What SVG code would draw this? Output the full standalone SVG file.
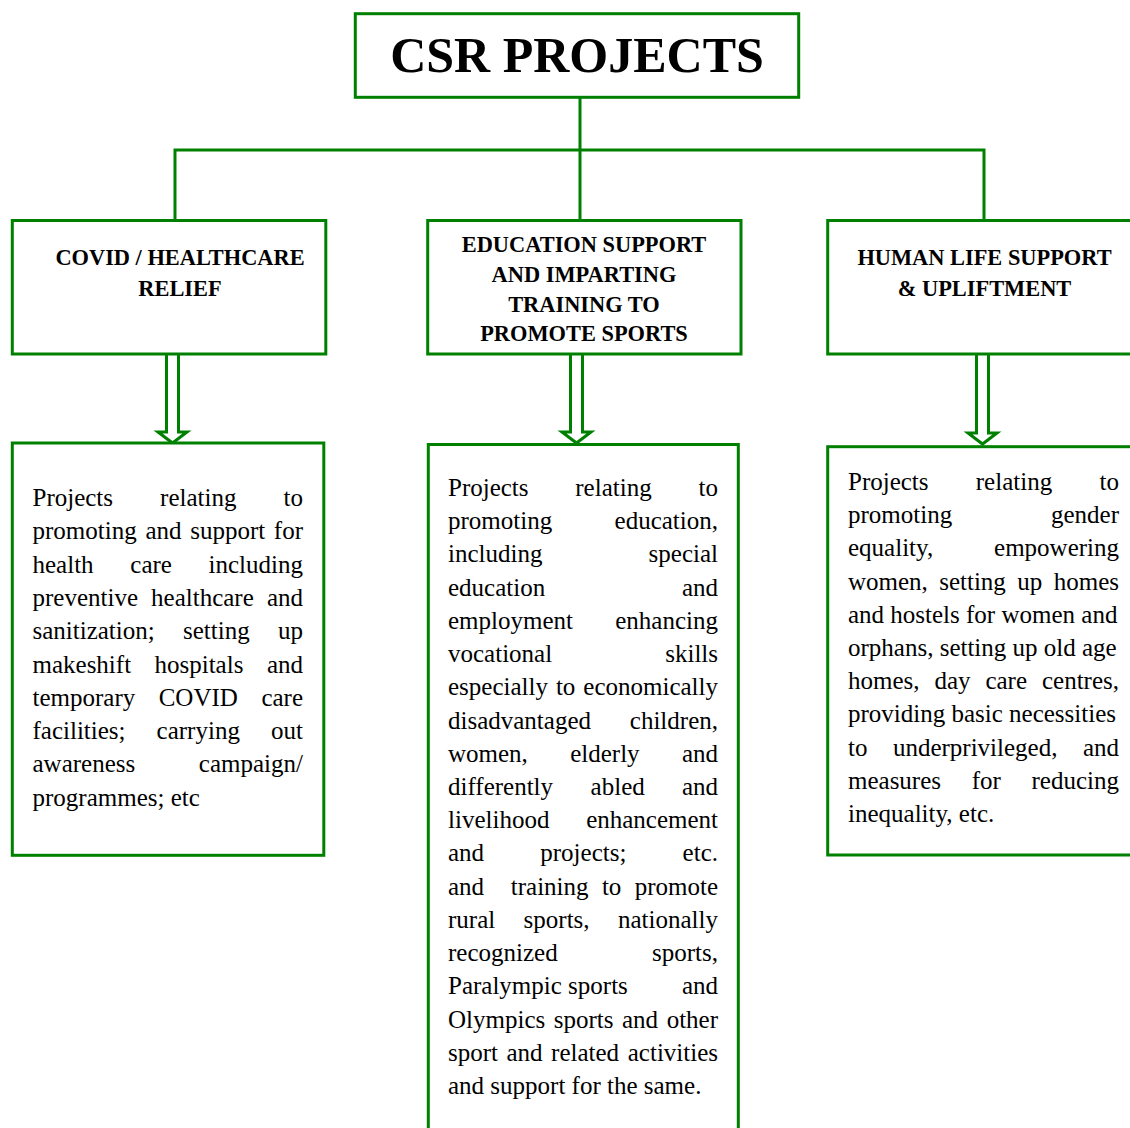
<svg xmlns="http://www.w3.org/2000/svg" width="1130" height="1128" viewBox="0 0 1130 1128">
<style>
.box{fill:#fff;stroke:#008000;stroke-width:3}
.ln{fill:none;stroke:#008000;stroke-width:3}
.arr{fill:#fff;stroke:#008000;stroke-width:3;stroke-linejoin:miter}
text{font-family:"Liberation Serif","Times New Roman",serif;fill:#000}
.t{font-size:50px;font-weight:bold;text-anchor:middle}
.h{font-size:22.4px;font-weight:bold;text-anchor:middle}
.b{font-size:25px}
.e{text-anchor:end}
</style>
<defs>
<path id="hollow" d="M-6,0 V78 H-14.5 L0,89 L14.5,78 H6 V0"/>
</defs>
<rect width="1130" height="1128" fill="#fff"/>
<g id="connectors">
<path class="ln" d="M580,97 V220.5 M175,220.5 V150 H984 V220.5"/>
<use href="#hollow" class="arr" transform="translate(172.5,354)"/>
<use href="#hollow" class="arr" transform="translate(576.5,354)"/>
<use href="#hollow" class="arr" transform="translate(982.5,355)"/>
</g>
<g id="csr-projects">
<rect class="box" x="355.3" y="13.7" width="443.4" height="83.6"/>
<text class="t" x="577" y="72">CSR PROJECTS</text>
</g>
<g id="covid-healthcare">
<rect class="box" x="12.3" y="220.5" width="313.5" height="133.5"/>
<text class="h" x="180" y="265">COVID / HEALTHCARE</text>
<text class="h" x="180" y="296">RELIEF</text>
</g>
<g id="education-sports">
<rect class="box" x="427.7" y="220.5" width="313.3" height="133.5"/>
<text class="h" x="584" y="252">EDUCATION SUPPORT</text>
<text class="h" x="584" y="282">AND IMPARTING</text>
<text class="h" x="584" y="312">TRAINING TO</text>
<text class="h" x="584" y="341">PROMOTE SPORTS</text>
</g>
<g id="human-life">
<rect class="box" x="827.7" y="220.5" width="320" height="133.5"/>
<text class="h" x="984.5" y="265">HUMAN LIFE SUPPORT</text>
<text class="h" x="984.5" y="296">&amp; UPLIFTMENT</text>
</g>
<g id="covid-details">
<rect class="box" x="12.3" y="443" width="311.5" height="412.3"/>
<g class="b">
<text x="32.5" y="506">Projects</text><text x="160.1" y="506">relating</text><text class="e" x="303" y="506">to</text>
<text x="32.5" y="539.3">promoting</text><text x="145.4" y="539.3">and</text><text x="190.2" y="539.3">support</text><text class="e" x="303" y="539.3">for</text>
<text x="32.5" y="572.6">health</text><text x="130.3" y="572.6">care</text><text class="e" x="303" y="572.6">including</text>
<text x="32.5" y="605.9">preventive</text><text x="151.1" y="605.9">healthcare</text><text class="e" x="303" y="605.9">and</text>
<text x="32.5" y="639.2">sanitization;</text><text x="183" y="639.2">setting</text><text class="e" x="303" y="639.2">up</text>
<text x="32.5" y="672.5">makeshift</text><text x="154.5" y="672.5">hospitals</text><text class="e" x="303" y="672.5">and</text>
<text x="32.5" y="705.8">temporary</text><text x="158.7" y="705.8">COVID</text><text class="e" x="303" y="705.8">care</text>
<text x="32.5" y="739.1">facilities;</text><text x="156.6" y="739.1">carrying</text><text class="e" x="303" y="739.1">out</text>
<text x="32.5" y="772.4">awareness</text><text class="e" x="303" y="772.4">campaign/</text>
<text x="32.5" y="805.7">programmes; etc</text>
</g>
</g>
<g id="education-details">
<rect class="box" x="428.3" y="444.5" width="310" height="700"/>
<g class="b">
<text x="448" y="496">Projects</text><text x="575.3" y="496">relating</text><text class="e" x="718" y="496">to</text>
<text x="448" y="529.2">promoting</text><text class="e" x="718" y="529.2">education,</text>
<text x="448" y="562.4">including</text><text class="e" x="718" y="562.4">special</text>
<text x="448" y="595.7">education</text><text class="e" x="718" y="595.7">and</text>
<text x="448" y="628.9">employment</text><text class="e" x="718" y="628.9">enhancing</text>
<text x="448" y="662.1">vocational</text><text class="e" x="718" y="662.1">skills</text>
<text x="448" y="695.3">especially</text><text x="555.9" y="695.3">to</text><text class="e" x="718" y="695.3">economically</text>
<text x="448" y="728.5">disadvantaged</text><text class="e" x="718" y="728.5">children,</text>
<text x="448" y="761.8">women,</text><text x="570.2" y="761.8">elderly</text><text class="e" x="718" y="761.8">and</text>
<text x="448" y="795">differently</text><text x="590.6" y="795">abled</text><text class="e" x="718" y="795">and</text>
<text x="448" y="828.2">livelihood</text><text class="e" x="718" y="828.2">enhancement</text>
<text x="448" y="861.4">and</text><text x="540.3" y="861.4">projects;</text><text class="e" x="718" y="861.4">etc.</text>
<text x="448" y="894.6">and</text><text x="510.8" y="894.6">training</text><text x="601.9" y="894.6">to</text><text class="e" x="718" y="894.6">promote</text>
<text x="448" y="927.9">rural</text><text x="523.6" y="927.9">sports,</text><text class="e" x="718" y="927.9">nationally</text>
<text x="448" y="961.1">recognized</text><text class="e" x="718" y="961.1">sports,</text>
<text x="448" y="994.3">Paralympic sports</text><text class="e" x="718" y="994.3">and</text>
<text x="448" y="1027.5">Olympics</text><text x="553.7" y="1027.5">sports</text><text x="622" y="1027.5">and</text><text class="e" x="718" y="1027.5">other</text>
<text x="448" y="1060.7">sport</text><text x="506.5" y="1060.7">and</text><text x="551.1" y="1060.7">related</text><text class="e" x="718" y="1060.7">activities</text>
<text x="448" y="1094">and support for the same.</text>
</g>
</g>
<g id="human-life-details">
<rect class="box" x="827.7" y="446.7" width="320" height="408.3"/>
<g class="b">
<text x="848" y="490">Projects</text><text x="975.8" y="490">relating</text><text class="e" x="1119" y="490">to</text>
<text x="848" y="523.2">promoting</text><text class="e" x="1119" y="523.2">gender</text>
<text x="848" y="556.4">equality,</text><text class="e" x="1119" y="556.4">empowering</text>
<text x="848" y="589.6">women,</text><text x="939.2" y="589.6">setting</text><text x="1017.3" y="589.6">up</text><text class="e" x="1119" y="589.6">homes</text>
<text x="848" y="622.8">and hostels for women and</text>
<text x="848" y="656">orphans, setting up old age</text>
<text x="848" y="689.2">homes,</text><text x="934.4" y="689.2">day</text><text x="985.4" y="689.2">care</text><text class="e" x="1119" y="689.2">centres,</text>
<text x="848" y="722.4">providing basic necessities</text>
<text x="848" y="755.6">to</text><text x="892.9" y="755.6">underprivileged,</text><text class="e" x="1119" y="755.6">and</text>
<text x="848" y="788.8">measures</text><text x="971.7" y="788.8">for</text><text class="e" x="1119" y="788.8">reducing</text>
<text x="848" y="822">inequality, etc.</text>
</g>
</g>
</svg>
